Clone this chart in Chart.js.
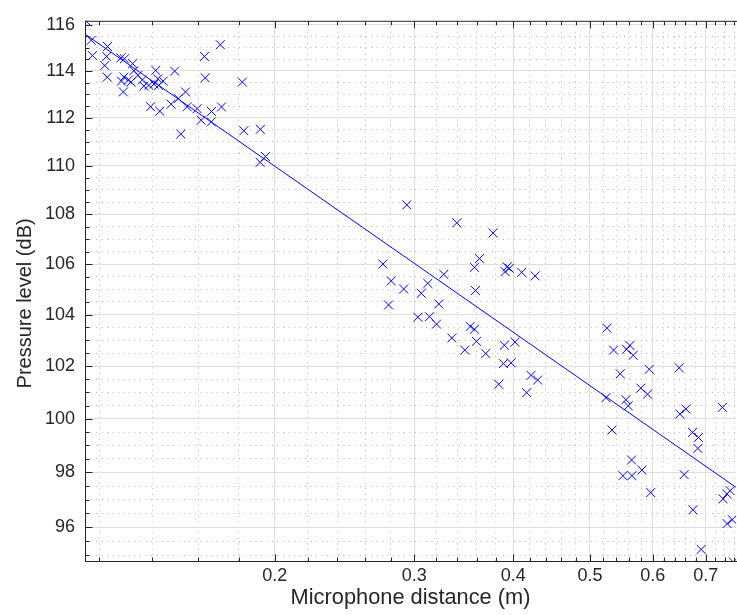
<!DOCTYPE html>
<html><head><meta charset="utf-8">
<script src="https://cdn.jsdelivr.net/npm/chart.js@4.4.1/dist/chart.umd.min.js"></script>
<style>html,body{margin:0;padding:0;background:#fff;overflow:hidden}</style>
</head><body>
<canvas id="c" width="737" height="615"></canvas>
<script>
// ---- data ----
const distance = [
0.1155,0.1173,0.1177,0.1230,0.1227,0.1220,0.1229,0.1279,0.1292,0.1323,
0.1328,0.1290,0.1281,0.1307,0.1317,0.1288,0.1344,0.1361,0.1367,0.1387,
0.1408,0.1415,0.1424,0.1446,0.1427,0.1394,0.1432,0.1495,0.1480,0.1511,
0.1543,0.1550,0.1596,0.1522,0.1615,0.1663,0.1664,0.1630,0.1634,0.1707,
0.1713,0.1820,0.1828,0.1918,0.1917,0.1947,
0.2936,0.3395,0.3773,0.2739,0.2806,0.2909,0.2784,0.3062,0.3121,0.3269,
0.3222,0.3032,0.3136,0.3201,0.3346,0.3475,0.3530,0.3574,0.3595,0.3693,
0.3626,0.3574,0.3584,0.3930,0.3956,0.3907,0.4100,0.4263,0.3899,0.4022,
0.3888,0.3976,0.4213,0.4295,0.3835,0.4160,
0.5253,0.5355,0.5561,0.5616,0.5670,0.5460,0.5940,0.5798,0.5911,0.5238,
0.5551,0.5589,0.6480,0.6493,0.6608,0.7348,0.5330,0.6736,0.6854,0.6842,
0.5643,0.5503,0.5649,0.5815,0.6575,0.5966,0.6744,0.7363,0.7449,0.7515,
0.7449,0.7564,0.6908,0.7586
];
const pressure = [
116.16,115.32,114.66,115.05,114.62,114.23,113.73,114.56,114.52,114.31,
114.01,113.73,113.56,113.61,113.52,113.10,113.81,113.61,113.35,113.38,
113.44,114.02,113.66,113.56,113.38,112.47,112.28,113.99,112.58,112.82,
113.10,112.47,112.39,111.32,111.90,111.83,112.27,114.62,113.70,115.13,
112.46,113.52,111.46,111.52,110.14,110.38,
108.39,107.66,107.25,106.00,105.33,105.01,104.38,104.84,105.23,105.59,
104.42,103.90,103.92,103.63,103.09,102.62,103.54,103.43,102.96,102.49,
106.22,105.87,104.95,105.89,105.83,105.70,105.67,105.53,102.81,102.93,
102.10,102.13,101.65,101.47,101.31,100.99,
103.47,102.62,102.65,102.80,102.42,101.71,101.88,101.16,100.93,100.80,
100.72,100.49,101.94,100.18,100.37,100.43,99.58,99.49,99.30,98.89,
98.46,97.88,97.88,98.09,97.92,97.26,96.63,97.03,97.21,97.33,
96.13,96.27,95.20,94.75
];
const fitDistance = [0.1152, 0.7646];
const fitPressure = [115.59, 97.45];

const xRange = [0.1152, 0.7646];
const yRange = [94.75, 116.17];
const xMajorTicks = [0.2, 0.3, 0.4, 0.5, 0.6, 0.7];
const xMinorTicks = [0.12,0.14,0.16,0.18,0.22,0.24,0.26,0.28,0.32,0.34,0.36,0.38,
                     0.42,0.44,0.46,0.48,0.52,0.54,0.56,0.58,0.62,0.64,0.66,0.68,0.72,0.74,0.76];
const yMajorTicks = [96, 98, 100, 102, 104, 106, 108, 110, 112, 114, 116];
const yMinorTicks = [95,95.5,96.5,97,97.5,98.5,99,99.5,100.5,101,101.5,102.5,103,103.5,
                     104.5,105,105.5,106.5,107,107.5,108.5,109,109.5,110.5,111,111.5,
                     112.5,113,113.5,114.5,115,115.5];
const xTitle = 'Microphone distance (m)';
const yTitle = 'Pressure level (dB)';

// ---- chart ----
const FONT = "'Liberation Sans', Arial, Helvetica, sans-serif";
const AXIS = '#262626';
const MAJOR_GRID = '#dedede';
const MINOR_GRID = '#bdbdbd';
const isMajor = (list, v) => list.some(m => Math.abs(m - v) < 1e-9);
const allX = [...xMinorTicks, ...xMajorTicks].sort((a, b) => a - b);
const allY = [...yMinorTicks, ...yMajorTicks].sort((a, b) => a - b);

const framePlugin = {
  id: 'frame',
  afterDatasetsDraw(chart) {
    const {ctx, chartArea: a, scales: {x, y}} = chart;
    ctx.save();
    ctx.strokeStyle = AXIS;
    ctx.lineWidth = 1;
    ctx.beginPath();
    ctx.moveTo(a.left + 0.5, a.top + 0.5);
    ctx.lineTo(a.left + 0.5, a.bottom - 0.5);
    ctx.moveTo(a.left, a.bottom - 0.5);
    ctx.lineTo(a.right + 2, a.bottom - 0.5);
    ctx.moveTo(a.left, a.top + 0.5);
    ctx.lineTo(a.right + 2, a.top + 0.5);
    allX.forEach(v => {
      const px = Math.round(x.getPixelForValue(v)) + 0.5;
      const L = isMajor(xMajorTicks, v) ? 7 : 4;
      ctx.moveTo(px, a.bottom - 0.5); ctx.lineTo(px, a.bottom - 0.5 - L);
      ctx.moveTo(px, a.top + 0.5); ctx.lineTo(px, a.top + 0.5 + L);
    });
    allY.forEach(v => {
      const py = Math.round(y.getPixelForValue(v)) + 0.5;
      const L = isMajor(yMajorTicks, v) ? 7 : 4;
      ctx.moveTo(a.left + 0.5, py); ctx.lineTo(a.left + 0.5 + L, py);
    });
    ctx.stroke();
    // y-axis title (placed as in the reference, slightly below the axis centre)
    ctx.fillStyle = AXIS;
    ctx.font = "20px " + FONT;
    ctx.textAlign = 'center';
    ctx.textBaseline = 'middle';
    ctx.translate(25, (a.top + a.bottom) / 2 + 12);
    ctx.rotate(-Math.PI / 2);
    ctx.fillText(yTitle, 0, 0);
    ctx.restore();
  }
};

new Chart(document.getElementById('c'), {
  type: 'scatter',
  data: {
    datasets: [
      {
        type: 'line',
        data: fitDistance.map((d, i) => ({x: d, y: fitPressure[i]})),
        borderColor: '#0000ff',
        borderWidth: 1,
        pointRadius: 0,
        fill: false,
        tension: 0
      },
      {
        data: distance.map((d, i) => ({x: d, y: pressure[i]})),
        pointStyle: 'crossRot',
        pointRadius: 6.3,
        borderWidth: 1,
        borderColor: '#0000ff',
        backgroundColor: '#0000ff'
      }
    ]
  },
  plugins: [framePlugin],
  options: {
    responsive: false,
    animation: false,
    events: [],
    layout: {autoPadding: false, padding: {top: 17, right: 0, left: 0, bottom: 0}},
    plugins: {legend: {display: false}, tooltip: {enabled: false}},
    scales: {
      x: {
        type: 'logarithmic',
        position: 'bottom',
        min: xRange[0], max: xRange[1],
        afterBuildTicks: s => { s.ticks = allX.map(v => ({value: v, major: isMajor(xMajorTicks, v)})); },
        afterFit: s => { s.height = 53; },
        ticks: {
          autoSkip: false, maxRotation: 0, padding: 3,
          color: AXIS, font: {family: FONT, size: 18},
          callback: v => isMajor(xMajorTicks, v) ? String(v) : ''
        },
        grid: {
          drawTicks: false,
          lineWidth: 1,
          color: c => (c.tick && isMajor(xMajorTicks, c.tick.value)) ? MAJOR_GRID : MINOR_GRID
        },
        border: {
          display: false,
          dash: c => (c.tick && isMajor(xMajorTicks, c.tick.value)) ? [] : [1, 4.5]
        },
        title: {display: true, text: xTitle, color: AXIS, font: {family: FONT, size: 21.8}, padding: {top: 0, bottom: 4}}
      },
      y: {
        type: 'logarithmic',
        position: 'left',
        min: yRange[0], max: yRange[1],
        afterBuildTicks: s => { s.ticks = allY.map(v => ({value: v, major: isMajor(yMajorTicks, v)})); },
        afterFit: s => { s.width = 85; },
        ticks: {
          autoSkip: false, padding: 10,
          color: AXIS, font: {family: FONT, size: 18},
          callback: v => isMajor(yMajorTicks, v) ? String(v) : ''
        },
        grid: {
          drawTicks: false,
          lineWidth: 1,
          color: c => (c.tick && isMajor(yMajorTicks, c.tick.value)) ? MAJOR_GRID : MINOR_GRID
        },
        border: {
          display: false,
          dash: c => (c.tick && isMajor(yMajorTicks, c.tick.value)) ? [] : [1, 4.5]
        },
        title: {display: false}
      }
    }
  }
});
</script>
</body></html>
